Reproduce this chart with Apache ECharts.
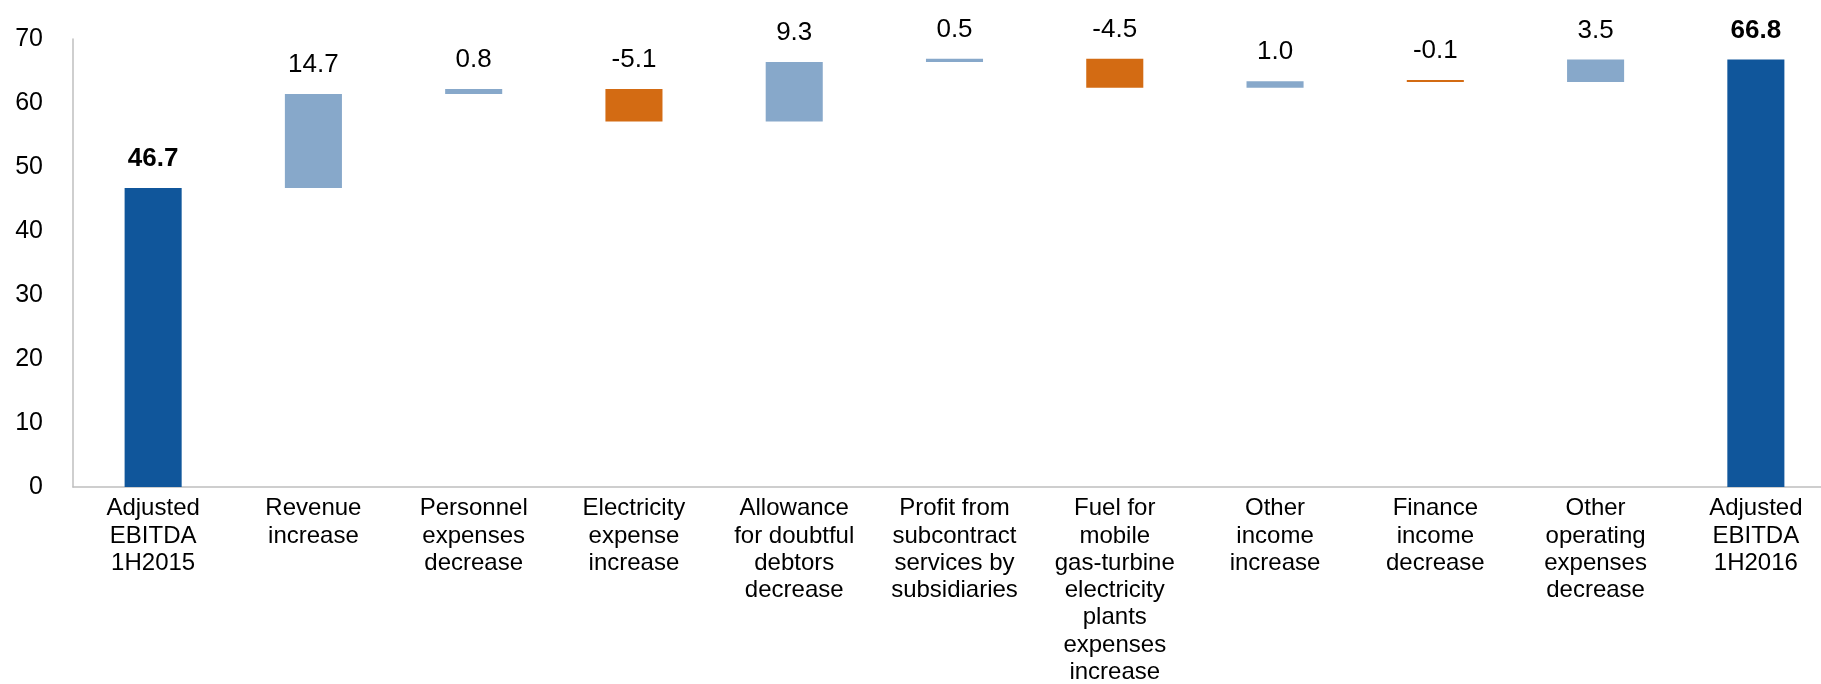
<!DOCTYPE html>
<html>
<head>
<meta charset="utf-8">
<script src="https://cdn.jsdelivr.net/npm/echarts@6/dist/echarts.min.js"></script>
<style>
  html, body { margin: 0; padding: 0; background: #ffffff; }
  #chart { width: 1821px; height: 684px; }
</style>
</head>
<body>
<div id="chart"></div>
<script>
// Adjusted EBITDA bridge, 1H2015 -> 1H2016
const categories = [
  'Adjusted\nEBITDA\n1H2015',
  'Revenue\nincrease',
  'Personnel\nexpenses\ndecrease',
  'Electricity\nexpense\nincrease',
  'Allowance\nfor doubtful\ndebtors\ndecrease',
  'Profit from\nsubcontract\nservices by\nsubsidiaries',
  'Fuel for\nmobile\ngas-turbine\nelectricity\nplants\nexpenses\nincrease',
  'Other\nincome\nincrease',
  'Finance\nincome\ndecrease',
  'Other\noperating\nexpenses\ndecrease',
  'Adjusted\nEBITDA\n1H2016'
];
const startTotal = 46.7;
const changes = [14.7, 0.8, -5.1, 9.3, 0.5, -4.5, 1.0, -0.1, 3.5];
const endTotal = 66.8;
const yTicks = { min: 0, max: 70, interval: 10 };

// Build the invisible base plus visible segments for the waterfall
const baseData = [0];
const totalData = [startTotal];
const upData = ['-'];
const downData = ['-'];
let running = startTotal;
changes.forEach(d => {
  if (d >= 0) {
    baseData.push(running);
    upData.push(d);
    downData.push('-');
  } else {
    baseData.push(running + d);
    upData.push('-');
    downData.push(-d);
  }
  totalData.push('-');
  running += d;
});
baseData.push(0);
totalData.push(endTotal);
upData.push('-');
downData.push('-');

const FONT = '"Liberation Sans", Arial, sans-serif';
const labelBase = {
  show: true,
  position: 'top',
  distance: 16,
  fontFamily: FONT,
  fontSize: 26,
  color: '#000000'
};

const chart = echarts.init(document.getElementById('chart'), null, { renderer: 'canvas' });
chart.setOption({
  animation: false,
  backgroundColor: '#ffffff',
  grid: {
    left: 73, right: -15, top: 39, bottom: 197,
    containLabel: false,
    outerBoundsMode: 'none'
  },
  xAxis: {
    type: 'category',
    data: categories,
    axisLine: { show: true, lineStyle: { color: '#BFBFBF', width: 1.5 } },
    axisTick: { show: false },
    axisLabel: {
      interval: 0,
      margin: 8,
      fontFamily: FONT,
      fontSize: 24,
      lineHeight: 27.3,
      color: '#000000',
      align: 'center',
      verticalAlign: 'top'
    }
  },
  yAxis: {
    type: 'value',
    min: yTicks.min,
    max: yTicks.max,
    interval: yTicks.interval,
    axisLine: { show: true, lineStyle: { color: '#BFBFBF', width: 1.5 } },
    axisTick: { show: false },
    splitLine: { show: false },
    axisLabel: {
      margin: 30,
      fontFamily: FONT,
      fontSize: 25,
      color: '#000000'
    }
  },
  series: [
    {
      name: 'base',
      type: 'bar',
      stack: 'w',
      barWidth: '35.6%',
      itemStyle: { color: 'rgba(0,0,0,0)' },
      emphasis: { disabled: true },
      data: baseData
    },
    {
      name: 'total',
      type: 'bar',
      stack: 'w',
      barWidth: '35.6%',
      itemStyle: { color: '#10569B' },
      label: Object.assign({}, labelBase, {
        fontWeight: 'bold',
        formatter: p => Number(p.value).toFixed(1)
      }),
      data: totalData
    },
    {
      name: 'increase',
      type: 'bar',
      stack: 'w',
      barWidth: '35.6%',
      barMinHeight: 2,
      itemStyle: { color: '#87A8CA' },
      label: Object.assign({}, labelBase, {
        formatter: p => Number(p.value).toFixed(1)
      }),
      data: upData
    },
    {
      name: 'decrease',
      type: 'bar',
      stack: 'w',
      barWidth: '35.6%',
      barMinHeight: 2,
      itemStyle: { color: '#D36B13' },
      label: Object.assign({}, labelBase, {
        formatter: p => '-' + Number(p.value).toFixed(1)
      }),
      data: downData
    }
  ]
});
</script>
</body>
</html>
